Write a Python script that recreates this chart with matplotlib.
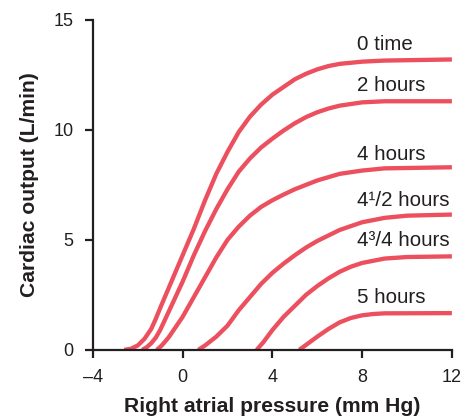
import numpy as np
import matplotlib
matplotlib.use('Agg')
import matplotlib.pyplot as plt

plt.rcParams['font.family'] = ['Liberation Sans', 'DejaVu Sans']

# кривые сердечного выброса (давление в правом предсердии, мм рт. ст. -> л/мин)
x_0h = [-2.6, -2.3, -2.0, -1.7, -1.4, -1.2, -1.0, -0.5, 0, 0.5, 1.0, 1.5, 1.75, 2.0, 2.25, 2.5, 2.75, 3, 3.5, 4, 4.5, 5, 5.5, 6, 6.5, 7, 8, 9, 12]
y_0h = [0, 0.05, 0.2, 0.5, 0.95, 1.4, 1.9, 3.1, 4.3, 5.5, 6.8, 8.0, 8.5, 9.0, 9.45, 9.9, 10.25, 10.6, 11.15, 11.6, 11.95, 12.3, 12.55, 12.75, 12.9, 13.0, 13.1, 13.15, 13.2]

x_2h = [-1.8, -1.6, -1.4, -1.2, -1.0, -0.5, 0, 0.5, 1.0, 1.5, 2, 2.5, 3, 3.5, 4, 4.5, 5, 5.5, 6, 6.5, 7, 8, 9, 12]
y_2h = [0, 0.12, 0.3, 0.55, 0.9, 2.0, 3.1, 4.3, 5.4, 6.4, 7.3, 8.1, 8.7, 9.2, 9.6, 9.97, 10.3, 10.58, 10.8, 10.97, 11.1, 11.25, 11.3, 11.3]

x_4h = [-1.15, -0.95, -0.8, -0.6, -0.4, 0, 0.5, 1.0, 1.5, 2, 2.5, 3, 3.5, 4, 4.5, 5, 6, 7, 8, 9, 12]
y_4h = [0, 0.18, 0.35, 0.6, 0.9, 1.5, 2.4, 3.3, 4.2, 5.0, 5.6, 6.1, 6.5, 6.8, 7.06, 7.3, 7.7, 8.0, 8.15, 8.25, 8.3]

x_45h = [0.7, 1.0, 1.5, 2.0, 2.5, 3, 3.5, 4, 4.5, 5, 5.5, 6, 7, 8, 9, 10, 12]
y_45h = [0, 0.2, 0.6, 1.1, 1.8, 2.4, 3.0, 3.5, 3.92, 4.3, 4.65, 4.95, 5.45, 5.8, 6.0, 6.1, 6.15]

x_475h = [3.3, 3.6, 4, 4.5, 5, 5.5, 6, 6.5, 7, 7.5, 8, 9, 10, 12]
y_475h = [0, 0.35, 0.9, 1.5, 2.0, 2.5, 2.9, 3.25, 3.55, 3.78, 3.95, 4.15, 4.22, 4.25]

x_5h = [5.2, 5.6, 6, 6.5, 7, 7.5, 8, 8.5, 9, 12]
y_5h = [0, 0.3, 0.6, 0.95, 1.25, 1.45, 1.57, 1.63, 1.66, 1.67]

labels = ['0 time', '2 hours', '4 hours', '4\u00b9/2 hours', '4\u00b3/4 hours', '5 hours']
label_y = [13.9, 12.0, 8.9, 6.77, 4.95, 2.36]
label_x = 7.75

curves = [(x_0h, y_0h), (x_2h, y_2h), (x_4h, y_4h),
          (x_45h, y_45h), (x_475h, y_475h), (x_5h, y_5h)]

red = '#EC4F5E'
ink = '#231F20'

fig = plt.figure(figsize=(4.69, 4.20), dpi=100)
ax = fig.add_axes([0.198, 0.167, 0.7655, 0.7857])

for (xs, ys) in curves:
    ax.plot(xs, ys, color=red, lw=3.1, solid_capstyle='butt', solid_joinstyle='round')

for lab, ly in zip(labels, label_y):
    ax.text(label_x, ly, lab, fontsize=14.8, color=ink, va='center', ha='left')

ax.set_xlim(-4, 12)
ax.set_ylim(0, 15)
ax.set_xticks([-4, 0, 4, 8, 12])
ax.set_xticklabels(['\u20134', '0', '4', '8', '12'])
ax.set_yticks([0, 5, 10, 15])

for s in ['top', 'right']:
    ax.spines[s].set_visible(False)
for s in ['left', 'bottom']:
    ax.spines[s].set_linewidth(1.6)
    ax.spines[s].set_color(ink)

ax.tick_params(direction='out', length=6, width=1.6, colors=ink, labelsize=13)
ax.tick_params(axis='x', pad=8)
ax.tick_params(axis='y', pad=8)

ax.set_xlabel('Right atrial pressure (mm Hg)', fontsize=15.2, fontweight='bold', color=ink, labelpad=8)
ax.set_ylabel('Cardiac output (L/min)', fontsize=15.2, fontweight='bold', color=ink, labelpad=10)

fig.savefig('out.png', dpi=100)
